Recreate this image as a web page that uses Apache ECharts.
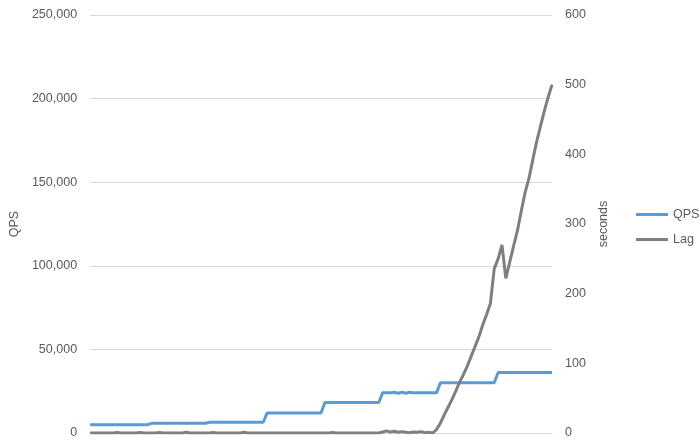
<!DOCTYPE html>
<html>
<head>
<meta charset="utf-8">
<script src="https://cdn.jsdelivr.net/npm/echarts@6/dist/echarts.min.js"></script>
<style>html,body{margin:0;padding:0;background:#fff}#c{width:700px;height:445px}</style>
</head>
<body>
<div id="c"></div>
<script>
const qpsTicks = [0, 50000, 100000, 150000, 200000, 250000];
const lagTicks = [0, 100, 200, 300, 400, 500, 600];
const qps = [
  5000,5000,5000,5000,5000,5000,5000,5000,5000,5000,5000,5000,5000,5000,5000,5000,
  5800,5800,5800,5800,5800,5800,5800,5800,5800,5800,5800,5800,5800,5800,5800,
  6400,6400,6400,6400,6400,6400,6400,6400,6400,6400,6400,6400,6400,6400,6400,
  12000,12000,12000,12000,12000,12000,12000,12000,12000,12000,12000,12000,12000,12000,12000,
  18200,18200,18200,18200,18200,18200,18200,18200,18200,18200,18200,18200,18200,18200,18200,
  24000,24000,24000,24400,23800,24400,23800,24400,24000,24000,24000,24000,24000,24000,24000,
  30000,30000,30000,30000,30000,30000,30000,30000,30000,30000,30000,30000,30000,30000,30000,
  36200,36200,36200,36200,36200,36200,36200,36200,36200,36200,36200,36200,36200,36200,36200
];
const lag = [
  0,0,0,0,0,0,0,0.8,0,0,0,0,0,0.8,0,0,
  0,0,0.8,0,0,0,0,0,0,1,0,0,0,0,0,
  0,0.8,0,0,0,0,0,0,0,1,0,0,0,0,0,
  0,0,0,0,0,0,0,0,0,0,0,0,0,0,0,
  0,0,0.8,0,0,0,0,0,0,0,0,0,0,0,0,
  1.5,3,1.5,2.5,1,2,1,0.5,1.5,1,2,0.5,1,0,5,
  14,26,37,48,60,73,84,96,110,124,138,155,170,186,236,
  250,270,222,245,268,290,318,345,365,392,418,440,462,482,500
];
const categories = qps.map((_, i) => String(i + 1));

const font = 'Liberation Sans';
const fs = 12.5;
const txt = '#595959';
const chart = echarts.init(document.getElementById('c'), null, {renderer: 'canvas'});
chart.setOption({
  animation: false,
  grid: {left: 86, right: 148, top: 15, bottom: 12, containLabel: false},
  legend: {
    orient: 'vertical', left: 631, top: 203, itemWidth: 32, itemHeight: 3, itemGap: 12,
    icon: 'rect',
    textStyle: {fontFamily: font, fontSize: fs, color: txt},
    data: ['QPS', 'Lag']
  },
  xAxis: {
    type: 'category', data: categories, boundaryGap: false,
    axisLine: {show: true, lineStyle: {color: '#D9D9D9', width: 1}},
    axisTick: {show: false}, axisLabel: {show: false}, splitLine: {show: false}
  },
  yAxis: [
    {
      type: 'value', min: qpsTicks[0], max: qpsTicks[qpsTicks.length - 1], interval: 50000,
      name: 'QPS', nameLocation: 'middle', nameGap: 63, nameRotate: 90,
      nameTextStyle: {fontFamily: font, fontSize: fs, color: txt},
      axisLine: {show: false}, axisTick: {show: false},
      axisLabel: {fontFamily: font, fontSize: fs, color: txt, margin: 13,
        formatter: v => v.toLocaleString('en-US')},
      splitLine: {lineStyle: {color: '#D9D9D9', width: 1}}
    },
    {
      type: 'value', min: lagTicks[0], max: lagTicks[lagTicks.length - 1], interval: 100,
      name: 'seconds', nameLocation: 'middle', nameGap: 44, nameRotate: 90,
      nameTextStyle: {fontFamily: font, fontSize: fs, color: txt},
      axisLine: {show: false}, axisTick: {show: false},
      axisLabel: {fontFamily: font, fontSize: fs, color: txt, margin: 13},
      splitLine: {show: false}
    }
  ],
  series: [
    {name: 'QPS', type: 'line', data: qps, yAxisIndex: 0, showSymbol: false, symbol: 'none',
      lineStyle: {color: '#5B9BD5', width: 3}, itemStyle: {color: '#5B9BD5'}},
    {name: 'Lag', type: 'line', data: lag, yAxisIndex: 1, showSymbol: false, symbol: 'none',
      lineStyle: {color: '#7F7F7F', width: 3}, itemStyle: {color: '#7F7F7F'}}
  ]
});
</script>
</body>
</html>
